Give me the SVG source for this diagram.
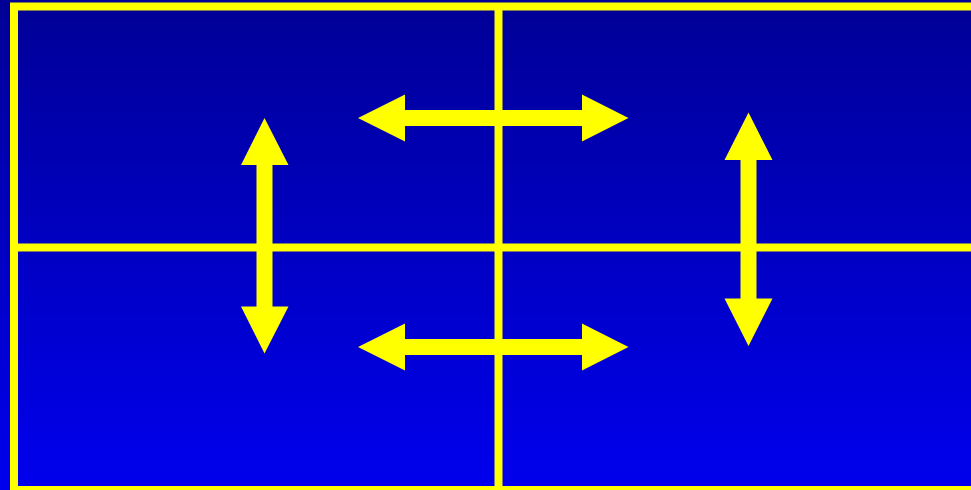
<svg xmlns="http://www.w3.org/2000/svg" width="971" height="490" viewBox="0 0 971 490">
  <defs>
    <linearGradient id="bg" x1="0" y1="0" x2="0" y2="1">
      <stop offset="0" stop-color="#000096"/>
      <stop offset="1" stop-color="#0000EE"/>
    </linearGradient>
  </defs>
  <style>
    .line { stroke: #FFFF00; stroke-width: 8; fill: none; }
    .arrow { fill: #FFFF00; stroke: none; }
  </style>
  <rect x="0" y="0" width="971" height="490" fill="url(#bg)"/>
  <g id="grid">
    <rect class="line" x="14" y="6.5" width="980" height="483.5"/>
    <line class="line" x1="498.5" y1="6" x2="498.5" y2="490"/>
    <line class="line" x1="14" y1="247.5" x2="971" y2="247.5"/>
  </g>
  <g id="connectors">
    <polygon id="arrow-top" class="arrow" points="358,118 405,94.5 405,110 582,110 582,94.5 628.5,118 582,141.5 582,126 405,126 405,141.5"/>
    <polygon id="arrow-bottom" class="arrow" points="358,347 405,323.5 405,339 582,339 582,323.5 628.5,347 582,370.5 582,355 405,355 405,370.5"/>
    <polygon id="arrow-left" class="arrow" points="264.5,118 288.5,165 272.5,165 272.5,306.5 288.5,306.5 264.5,353.5 241,306.5 256.5,306.5 256.5,165 241,165"/>
    <polygon id="arrow-right" class="arrow" points="748.5,112.5 772.5,160 756.5,160 756.5,298.5 772.5,298.5 748.5,346 724.5,298.5 740.5,298.5 740.5,160 724.5,160"/>
  </g>
</svg>
